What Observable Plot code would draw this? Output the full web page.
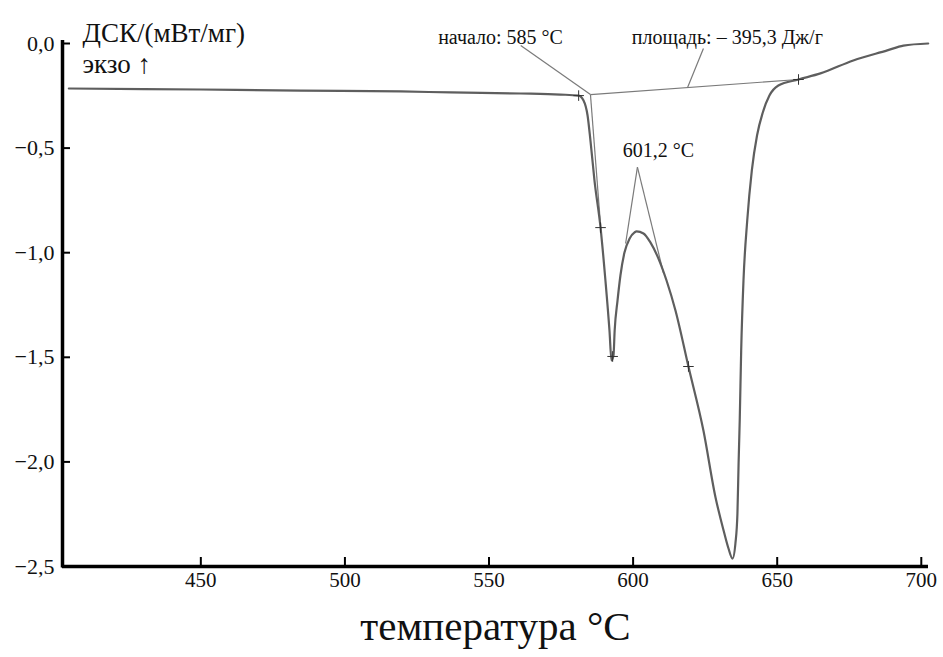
<!DOCTYPE html>
<html><head><meta charset="utf-8">
<script src="https://cdn.jsdelivr.net/npm/d3@7"></script>
<script src="https://cdn.jsdelivr.net/npm/@observablehq/plot@0.6"></script>
<style>
body{margin:0;background:#fff;}
#chart svg, #chart svg text{font-family:"Liberation Serif","Times New Roman",Times,"DejaVu Serif",serif !important;}
#chart g[aria-label="x-axis label"] text{font-size:41px;}
</style></head><body><div id="chart"></div>
<script>
// DSC curve (temperature °C, DSC mW/mg)
const temperature = [404.2, 450, 484.7, 519.4, 536.7, 561.0, 574.8, 581.1, 582.8, 584.2, 585.2, 586.6, 588.7, 590.4, 591.8, 592.5, 593.2, 593.6, 594.6, 595.6, 597.0, 598.8, 600.5, 601.2, 603.6, 606.0, 608.8, 611.6, 614.7, 619.2, 624.4, 628.6, 631.4, 633.1, 634.5, 635.5, 636.2, 636.6, 637.0, 637.5, 638.3, 639.6, 641.2, 643.0, 645.0, 647.3, 650.4, 657.4, 665.0, 676.4, 688.2, 693.8, 702.4];
const dsc = [-0.215, -0.220, -0.225, -0.229, -0.234, -0.239, -0.244, -0.249, -0.272, -0.344, -0.464, -0.655, -0.880, -1.133, -1.372, -1.515, -1.490, -1.372, -1.228, -1.109, -0.999, -0.932, -0.903, -0.898, -0.908, -0.951, -1.028, -1.133, -1.276, -1.544, -1.850, -2.170, -2.328, -2.414, -2.462, -2.390, -2.247, -2.008, -1.800, -1.468, -1.133, -0.846, -0.607, -0.440, -0.330, -0.249, -0.201, -0.172, -0.143, -0.081, -0.033, -0.010, 0.000];

// annotation lines (x1, y1, x2, y2)
const annX1 = [561.0, 585.2, 585.2, 624.4, 601.5, 601.5];
const annY1 = [-0.010, -0.244, -0.244, -0.024, -0.591, -0.591];
const annX2 = [585.2, 657.4, 588.9, 618.9, 597.4, 610.5];
const annY2 = [-0.244, -0.172, -0.905, -0.210, -0.956, -1.095];

// marker crosses
const markT = [581.1, 588.7, 592.9, 619.2, 657.4];
const markV = [-0.249, -0.880, -1.496, -1.544, -0.172];

// annotation texts
const labelText = ["начало: 585 °C", "площадь: – 395,3 Дж/г", "601,2 °C"];
const labelT = [554.0, 632.7, 608.8];
const labelV = [0.029, 0.029, -0.511];

const xDomain = [402, 702.5];
const yDomain = [-2.5, 0];
const xTicks = [450, 500, 550, 600, 650, 700];
const yTicks = [0, -0.5, -1.0, -1.5, -2.0, -2.5];
const yTitle = ["ДСК/(мВт/мг)", "экзо ↑"];
const xTitle = "температура °C";

const curve = temperature.map((t, i) => ({t, v: dsc[i]}));
const links = annX1.map((x1, i) => ({x1, y1: annY1[i], x2: annX2[i], y2: annY2[i]}));
const marks = markT.map((t, i) => ({t, v: markV[i]}));
const labels = labelText.map((s, i) => ({s, t: labelT[i], v: labelV[i]}));

const W = 943, H = 657, ML = 62, MR = 15, MT = 43, MB = 91;
const fmt = d => (d === 0 ? "0,0" : d.toFixed(1).replace(".", ",").replace("-", "−"));
const SERIF = "'Liberation Serif', 'Times New Roman', Times, 'DejaVu Serif', serif";

const chart = Plot.plot({
  width: W, height: H,
  marginLeft: ML, marginRight: MR, marginTop: MT, marginBottom: MB,
  style: {fontFamily: SERIF, background: "#fff"},
  x: {domain: xDomain},
  y: {domain: yDomain},
  marks: [
    Plot.axisY({ticks: yTicks, tickSize: 0, tickPadding: 8, tickFormat: fmt, fontSize: 22, label: null, color: "#111", fontFamily: SERIF}),
    Plot.axisX({ticks: xTicks, tickSize: 0, tickPadding: 6, fontSize: 21, label: xTitle, labelAnchor: "center", labelArrow: "none", labelOffset: 73, color: "#111", fontFamily: SERIF}),
    Plot.tickX(xTicks, {x: d => d, insetTop: H - MT - MB - 9, stroke: "#000", strokeWidth: 2}),
    Plot.tickY(yTicks, {y: d => d, insetRight: W - ML - MR - 8, stroke: "#000", strokeWidth: 2}),
    Plot.ruleY([yDomain[0]], {stroke: "#000", strokeWidth: 3.5}),
    Plot.ruleX([xDomain[0]], {stroke: "#000", strokeWidth: 3.5, insetTop: -3, insetBottom: -1.5}),
    Plot.link(links, {x1: "x1", y1: "y1", x2: "x2", y2: "y2", stroke: "#7a7a7a", strokeWidth: 1.2}),
    Plot.line(curve, {x: "t", y: "v", stroke: "#5e5e5e", strokeWidth: 2.2, curve: "monotone-x"}),
    Plot.dot(marks, {x: "t", y: "v", symbol: "plus", r: 3.5, stroke: "#333", strokeWidth: 1}),
    Plot.text(labels, {x: "t", y: "v", text: "s", fontSize: 20, fill: "#111", fontFamily: SERIF}),
    Plot.text([yTitle[0]], {frameAnchor: "top-left", text: d => d, dx: 20, dy: -21, textAnchor: "start", fontSize: 27, fill: "#111", fontFamily: SERIF}),
    Plot.text([yTitle[1]], {frameAnchor: "top-left", text: d => d, dx: 20, dy: 10, textAnchor: "start", fontSize: 27, fill: "#111", fontFamily: SERIF})
  ]
});
document.getElementById("chart").appendChild(chart);
</script></body></html>
